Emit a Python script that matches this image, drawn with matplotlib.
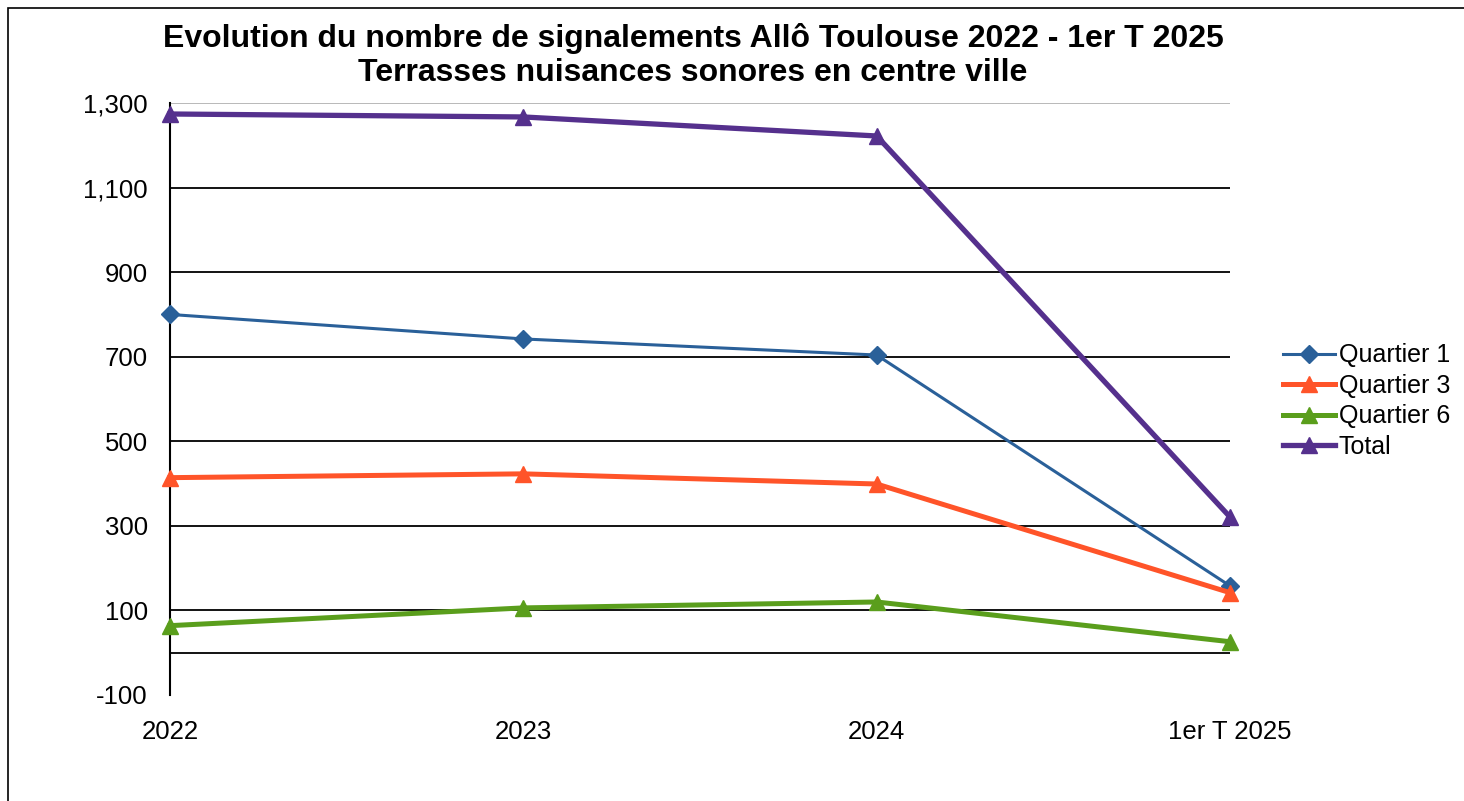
import matplotlib.pyplot as plt
from matplotlib.patches import Rectangle

plt.rcParams['font.family'] = ['Liberation Sans', 'DejaVu Sans']

categories = ["2022", "2023", "2024", "1er T 2025"]
quartier1 = [800, 742, 704, 158]
quartier3 = [414, 423, 399, 142]
quartier6 = [64, 106, 120, 26]
total = [1274, 1267, 1222, 321]

fig = plt.figure(figsize=(14.64, 8.01), dpi=100)
ax = fig.add_axes([170 / 1464, 1 - 695 / 801, 1060 / 1464, 592 / 801])

# outer frame of the chart (cut by the image edges on right/bottom)
fig.patches.append(Rectangle((8 / 1464, -0.1), 1.2, 0.1 + 1 - 8 / 801,
                             transform=fig.transFigure, fill=False,
                             edgecolor='black', linewidth=1.2))

x = range(len(categories))
ax.plot(x, quartier1, color='#2a6099', lw=2.2, marker='D', ms=9, label='Quartier 1', zorder=4, clip_on=False)
ax.plot(x, quartier3, color='#ff5429', lw=3.6, marker='^', ms=12, label='Quartier 3', zorder=4, clip_on=False)
ax.plot(x, quartier6, color='#5a9e1c', lw=3.6, marker='^', ms=12, label='Quartier 6', zorder=4, clip_on=False)
ax.plot(x, total, color='#55308d', lw=3.8, marker='^', ms=12, label='Total', zorder=5, clip_on=False)

ax.set_xlim(0, 3)
ax.set_ylim(-100, 1300)
yt = list(range(-100, 1301, 200))
ax.set_yticks(yt)
ax.set_yticklabels([f"{v:,}" for v in yt])
ax.set_xticks(list(x))
ax.set_xticklabels(categories)

for v in yt[1:-1]:
    ax.axhline(v, color='black', lw=1.3, zorder=1)
ax.axhline(1300, color='#b3b3b3', lw=1.3, zorder=1)
ax.axhline(0, color='black', lw=1.3, zorder=1)

for s in ['top', 'right', 'bottom']:
    ax.spines[s].set_visible(False)
ax.spines['left'].set_linewidth(1.5)
ax.tick_params(axis='both', length=0, labelsize=18.5)
ax.tick_params(axis='x', pad=18)
ax.tick_params(axis='y', pad=16)

fig.text(693 / 1464, 1 - 38 / 801, "Evolution du nombre de signalements Allô Toulouse 2022 - 1er T 2025",
         ha='center', va='center', fontsize=23, fontweight='bold')
fig.text(693 / 1464, 1 - 73 / 801, "Terrasses nuisances sonores en centre ville",
         ha='center', va='center', fontsize=23, fontweight='bold')

ax.legend(loc='center left', bbox_to_anchor=(1270 / 1464, 1 - 401 / 801),
          bbox_transform=fig.transFigure, frameon=False, fontsize=18,
          handlelength=2.1, handletextpad=0.15, labelspacing=0.26, borderpad=0)

fig.savefig('out.png', dpi=100, facecolor='white')
